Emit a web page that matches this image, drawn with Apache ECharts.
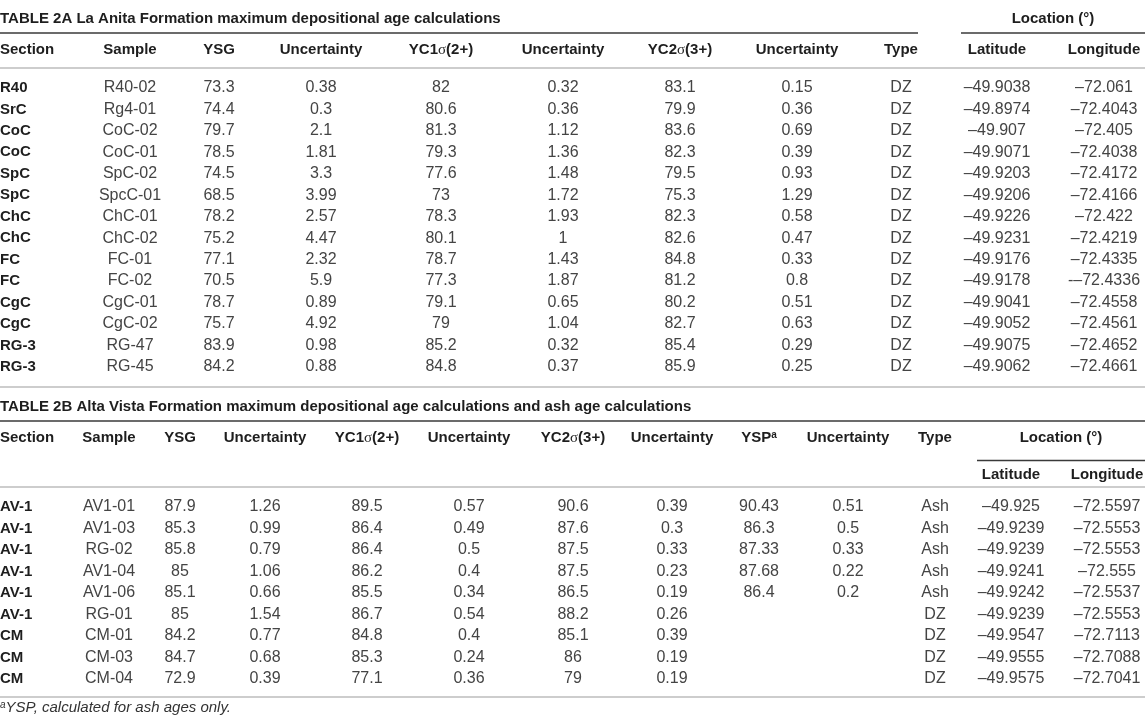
<!DOCTYPE html>
<html>
<head>
<meta charset="utf-8">
<title>Table 2</title>
<script src="https://cdn.jsdelivr.net/npm/echarts@6/dist/echarts.min.js"></script>
<style>
  html, body { margin: 0; padding: 0; background: #fff; }
  #main { width: 1145px; height: 723px; }
</style>
</head>
<body>
<div id="main"></div>
<script>
// 表头
const title2A = 'TABLE 2A La Anita Formation maximum depositional age calculations'
const title2B = 'TABLE 2B Alta Vista Formation maximum depositional age calculations and ash age calculations'
const headers2A = ['Section', 'Sample', 'YSG', 'Uncertainty', 'YC1σ(2+)', 'Uncertainty', 'YC2σ(3+)', 'Uncertainty', 'Type', 'Latitude', 'Longitude']
const headers2B = ['Section', 'Sample', 'YSG', 'Uncertainty', 'YC1σ(2+)', 'Uncertainty', 'YC2σ(3+)', 'Uncertainty', 'YSP^a', 'Uncertainty', 'Type', 'Latitude', 'Longitude']
const locationLabel = 'Location (°)'
const footnote = 'YSP, calculated for ash ages only.'

// TABLE 2A 数据
const sections2A = ['R40', 'SrC', 'CoC', 'CoC', 'SpC', 'SpC', 'ChC', 'ChC', 'FC', 'FC', 'CgC', 'CgC', 'RG-3', 'RG-3']
const samples2A = ['R40-02', 'Rg4-01', 'CoC-02', 'CoC-01', 'SpC-02', 'SpcC-01', 'ChC-01', 'ChC-02', 'FC-01', 'FC-02', 'CgC-01', 'CgC-02', 'RG-47', 'RG-45']
const ysg2A = [73.3, 74.4, 79.7, 78.5, 74.5, 68.5, 78.2, 75.2, 77.1, 70.5, 78.7, 75.7, 83.9, 84.2]
const ysgUnc2A = [0.38, 0.3, 2.1, 1.81, 3.3, 3.99, 2.57, 4.47, 2.32, 5.9, 0.89, 4.92, 0.98, 0.88]
const yc1_2A = [82, 80.6, 81.3, 79.3, 77.6, 73, 78.3, 80.1, 78.7, 77.3, 79.1, 79, 85.2, 84.8]
const yc1Unc2A = [0.32, 0.36, 1.12, 1.36, 1.48, 1.72, 1.93, 1, 1.43, 1.87, 0.65, 1.04, 0.32, 0.37]
const yc2_2A = [83.1, 79.9, 83.6, 82.3, 79.5, 75.3, 82.3, 82.6, 84.8, 81.2, 80.2, 82.7, 85.4, 85.9]
const yc2Unc2A = [0.15, 0.36, 0.69, 0.39, 0.93, 1.29, 0.58, 0.47, 0.33, 0.8, 0.51, 0.63, 0.29, 0.25]
const type2A = ['DZ', 'DZ', 'DZ', 'DZ', 'DZ', 'DZ', 'DZ', 'DZ', 'DZ', 'DZ', 'DZ', 'DZ', 'DZ', 'DZ']
const lat2A = ['–49.9038', '–49.8974', '–49.907', '–49.9071', '–49.9203', '–49.9206', '–49.9226', '–49.9231', '–49.9176', '–49.9178', '–49.9041', '–49.9052', '–49.9075', '–49.9062']
const lon2A = ['–72.061', '–72.4043', '–72.405', '–72.4038', '–72.4172', '–72.4166', '–72.422', '–72.4219', '–72.4335', '-–72.4336', '–72.4558', '–72.4561', '–72.4652', '–72.4661']

// TABLE 2B 数据
const sections2B = ['AV-1', 'AV-1', 'AV-1', 'AV-1', 'AV-1', 'AV-1', 'CM', 'CM', 'CM']
const samples2B = ['AV1-01', 'AV1-03', 'RG-02', 'AV1-04', 'AV1-06', 'RG-01', 'CM-01', 'CM-03', 'CM-04']
const ysg2B = [87.9, 85.3, 85.8, 85, 85.1, 85, 84.2, 84.7, 72.9]
const ysgUnc2B = [1.26, 0.99, 0.79, 1.06, 0.66, 1.54, 0.77, 0.68, 0.39]
const yc1_2B = [89.5, 86.4, 86.4, 86.2, 85.5, 86.7, 84.8, 85.3, 77.1]
const yc1Unc2B = [0.57, 0.49, 0.5, 0.4, 0.34, 0.54, 0.4, 0.24, 0.36]
const yc2_2B = [90.6, 87.6, 87.5, 87.5, 86.5, 88.2, 85.1, 86, 79]
const yc2Unc2B = [0.39, 0.3, 0.33, 0.23, 0.19, 0.26, 0.39, 0.19, 0.19]
const ysp2B = [90.43, 86.3, 87.33, 87.68, 86.4, null, null, null, null]
const yspUnc2B = [0.51, 0.5, 0.33, 0.22, 0.2, null, null, null, null]
const type2B = ['Ash', 'Ash', 'Ash', 'Ash', 'Ash', 'DZ', 'DZ', 'DZ', 'DZ']
const lat2B = ['–49.925', '–49.9239', '–49.9239', '–49.9241', '–49.9242', '–49.9239', '–49.9547', '–49.9555', '–49.9575']
const lon2B = ['–72.5597', '–72.5553', '–72.5553', '–72.555', '–72.5537', '–72.5553', '–72.7113', '–72.7088', '–72.7041']

// 版式（列中心位置，像素）
const W = 1145
const colX2A = [0, 130, 219, 321, 441, 563, 680, 797, 901, 997, 1104]
const colX2B = [0, 109, 180, 265, 367, 469, 573, 672, 759, 848, 935, 1011, 1107]
const FAMILY = '"Liberation Sans", Arial, Helvetica, sans-serif'
const boldFont = 'bold 15px ' + FAMILY
const dataFont = '16px ' + FAMILY
const headColor = '#1e1e1e'
const dataColor = '#444'
const ruleDark = '#3a3a3a'
const ruleLight = '#cdcdcd'

const richHead = {
    b: { font: boldFont, fill: headColor },
    s: { font: '15px "Liberation Serif", serif', fill: headColor },
    sup: { font: 'bold 10px ' + FAMILY, fill: headColor, verticalAlign: 'top', padding: [0, 0, 6, 0] }
}

// 把表头转成富文本：σ 用衬线体，^a 做上标
function toRich(h) {
    let out = ''
    let parts = h.split('^')
    let main = parts[0].split('σ')
    main.forEach(function (p, i) {
        if (p) out += '{b|' + p + '}'
        if (i < main.length - 1) out += '{s|σ}'
    })
    if (parts[1]) out += '{sup|' + parts[1] + '}'
    return out
}

function textEl(x, y, text, align, opts) {
    return Object.assign({
        type: 'text', x: x, y: y, silent: true,
        style: Object.assign({
            text: text, align: align, textAlign: align,
            verticalAlign: 'middle', textVerticalAlign: 'middle'
        }, opts)
    })
}

function lineEl(x1, y, x2, color, width) {
    return {
        type: 'line', silent: true,
        shape: { x1: x1, y1: y, x2: x2, y2: y },
        style: { stroke: color, lineWidth: width }
    }
}

function headerEls(headers, colX, y) {
    return headers.map(function (h, i) {
        return textEl(colX[i], y, toRich(h), i === 0 ? 'left' : 'center', { rich: richHead })
    })
}

// 表格单元格：行用类目轴定位，列用数值轴定位
function tableSeries(idx, columns, colX) {
    let cells = []
    columns.forEach(function (values, c) {
        values.forEach(function (v, r) {
            if (v !== null && v !== undefined) cells.push({ c: c, r: r, text: String(v) })
        })
    })
    return {
        type: 'custom',
        xAxisIndex: idx,
        yAxisIndex: idx,
        silent: true,
        clip: false,
        animation: false,
        data: cells.map(function (d) { return [d.c, d.r] }),
        renderItem: function (params, api) {
            let cell = cells[params.dataIndex]
            let y = api.coord([0, api.value(1)])[1]
            let x = api.coord([colX[cell.c], 0])[0]
            let first = cell.c === 0
            return {
                type: 'text', x: x, y: y,
                style: {
                    text: cell.text,
                    font: first ? boldFont : dataFont,
                    fill: first ? headColor : dataColor,
                    align: first ? 'left' : 'center',
                    textAlign: first ? 'left' : 'center',
                    verticalAlign: 'middle',
                    textVerticalAlign: 'middle'
                }
            }
        }
    }
}

const cols2A = [sections2A, samples2A, ysg2A, ysgUnc2A, yc1_2A, yc1Unc2A, yc2_2A, yc2Unc2A, type2A, lat2A, lon2A]
const cols2B = [sections2B, samples2B, ysg2B, ysgUnc2B, yc1_2B, yc1Unc2B, yc2_2B, yc2Unc2B, ysp2B, yspUnc2B, type2B, lat2B, lon2B]

// 行距
const rowH2A = 21.45, firstRow2A = 88
const rowH2B = 21.5, firstRow2B = 507

let graphics = []
// TABLE 2A
graphics.push(textEl(0, 19, title2A, 'left', { font: boldFont, fill: headColor }))
graphics.push(textEl(1053, 19, locationLabel, 'center', { font: boldFont, fill: headColor }))
graphics.push(lineEl(0, 33, 918, ruleDark, 1.5))
graphics.push(lineEl(961, 33, W, ruleDark, 1.5))
graphics = graphics.concat(headerEls(headers2A, colX2A, 50))
graphics.push(lineEl(0, 68, W, ruleLight, 2))
graphics.push(lineEl(0, 387, W, ruleLight, 2))
// TABLE 2B
graphics.push(textEl(0, 407, title2B, 'left', { font: boldFont, fill: headColor }))
graphics.push(lineEl(0, 421, W, ruleDark, 1.5))
graphics = graphics.concat(headerEls(headers2B.slice(0, 11), colX2B, 438))
graphics.push(textEl(1061, 438, locationLabel, 'center', { font: boldFont, fill: headColor }))
graphics.push(lineEl(977, 460.5, W, ruleDark, 1.5))
graphics = graphics.concat(headerEls(headers2B.slice(11), colX2B.slice(11), 475).map(function (e) {
    e.style.align = e.style.textAlign = 'center'
    return e
}))
graphics.push(lineEl(0, 487, W, ruleLight, 2))
graphics.push(lineEl(0, 697, W, ruleLight, 2))
// 脚注
graphics.push(textEl(0, 708, '{sup|a}{i|' + footnote + '}', 'left', {
    rich: {
        sup: { font: 'italic 10px ' + FAMILY, fill: '#333', verticalAlign: 'top', padding: [0, 0, 6, 0] },
        i: { font: 'italic 15px ' + FAMILY, fill: '#333' }
    }
}))

let myChart = echarts.init(document.getElementById('main'), null, { renderer: 'canvas' })
myChart.setOption({
    animation: false,
    backgroundColor: '#fff',
    grid: [
        { left: 0, right: 0, top: firstRow2A - rowH2A / 2, height: rowH2A * samples2A.length },
        { left: 0, right: 0, top: firstRow2B - rowH2B / 2, height: rowH2B * samples2B.length }
    ],
    xAxis: [
        { type: 'value', gridIndex: 0, min: 0, max: W, show: false },
        { type: 'value', gridIndex: 1, min: 0, max: W, show: false }
    ],
    yAxis: [
        { type: 'category', gridIndex: 0, data: samples2A, inverse: true, show: false },
        { type: 'category', gridIndex: 1, data: samples2B, inverse: true, show: false }
    ],
    series: [
        tableSeries(0, cols2A, colX2A),
        tableSeries(1, cols2B, colX2B)
    ],
    graphic: { elements: graphics }
})
</script>
</body>
</html>
